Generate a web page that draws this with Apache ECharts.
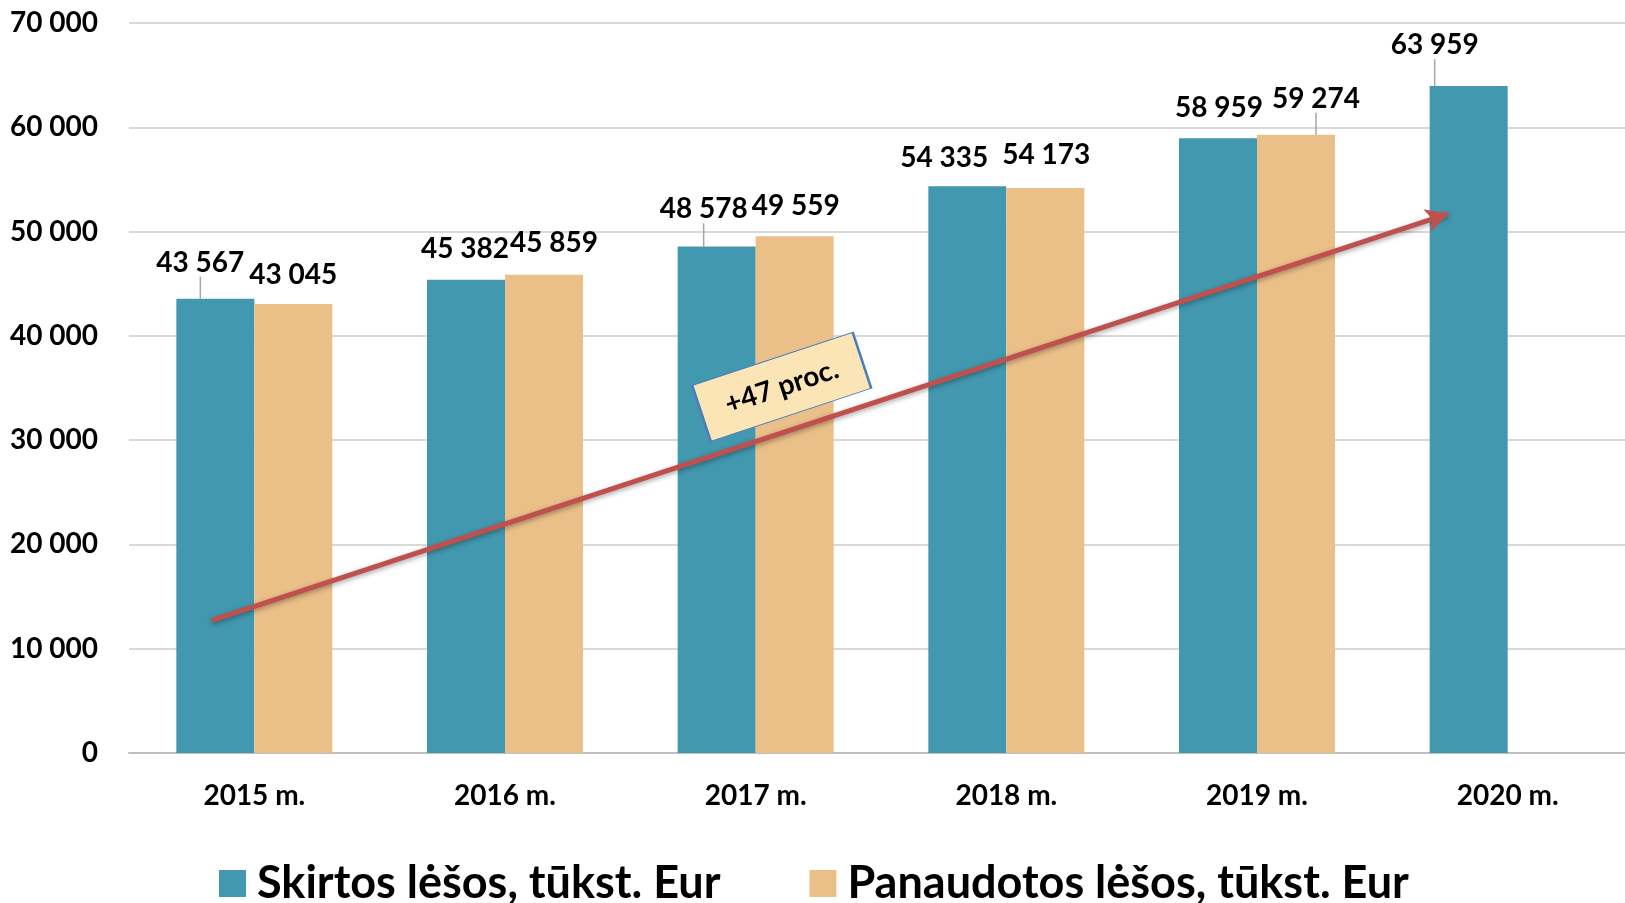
<!DOCTYPE html>
<html>
<head>
<meta charset="utf-8">
<script src="https://cdn.jsdelivr.net/npm/echarts@6/dist/echarts.min.js"></script>
<style>
    html, body { margin: 0; padding: 0; background: #fff; }
    #chart { width: 1625px; height: 903px; }
</style>
</head>
<body>
<div id="chart"></div>
<script>
// data
const years = ['2015 m.', '2016 m.', '2017 m.', '2018 m.', '2019 m.', '2020 m.'];
const skirtos = [43567, 45382, 48578, 54335, 58959, 63959];
const panaudotos = [43045, 45859, 49559, 54173, 59274, null];
const yTicks = [0, 10000, 20000, 30000, 40000, 50000, 60000, 70000];
// trend arrow, in (category index, value) space
const trendFrom = [-0.169, 12710];
const trendTo = [4.762, 51700];
const trendText = '+47 proc.';
const trendBoxAt = [2.104, 35110];

// label nudges [dx, dy] so labels sit like the original
const blueNudge = [[-15, -5], [-1, 0], [-13, -6], [-23, 3], [1, 1], [-34, -10]];
const orangeNudge = [[0, 2], [10, -1], [1, 1], [1, -2], [20, -5], [0, 0]];
const blueLeader = [true, false, true, false, false, true];
const orangeLeader = [false, false, false, false, true, false];

const FONT = 'Lato';

function fmt(v) {
    return String(v).replace(/\B(?=(\d{3})+(?!\d))/g, ' ');
}

function items(values, leaders) {
    return values.map(function (v, i) {
        return {
            value: v,
            labelLine: { show: leaders[i] }
        };
    });
}

let chart = echarts.init(document.getElementById('chart'));

let labelStyle = {
    show: true,
    position: 'top',
    distance: 17,
    color: '#000',
    fontFamily: FONT,
    fontWeight: 'bold',
    fontSize: 28,
    formatter: function (p) {
        return fmt(p.value);
    }
};

let option = {
    animation: false,
    textStyle: { fontFamily: FONT },
    grid: {
        left: 129,
        width: 1504,
        top: 23,
        bottom: 150,
        outerBoundsMode: 'none',
        show: false
    },
    xAxis: [{
        type: 'category',
        data: years,
        axisTick: { show: false },
        axisLine: {
            lineStyle: { color: '#BFBFBF', width: 2 }
        },
        axisLabel: {
            margin: 29,
            color: '#000',
            fontFamily: FONT,
            fontWeight: 'bold',
            fontSize: 28
        }
    }, {
        type: 'value',
        min: -0.5,
        max: 5.5,
        show: false
    }],
    yAxis: {
        type: 'value',
        min: yTicks[0],
        max: yTicks[yTicks.length - 1],
        interval: 10000,
        axisLine: { show: false },
        axisTick: { show: false },
        splitLine: {
            lineStyle: { color: '#D9D9D9', width: 2 }
        },
        axisLabel: {
            margin: 31,
            color: '#000',
            fontFamily: FONT,
            fontWeight: 'bold',
            fontSize: 28,
            formatter: function (v) {
                return fmt(v);
            }
        }
    },
    legend: {
        left: 214,
        top: 856,
        itemWidth: 27,
        itemHeight: 27,
        itemGap: 89,
        icon: 'rect',
        textStyle: {
            color: '#000',
            fontFamily: FONT,
            fontWeight: 'bold',
            fontSize: 45,
            padding: [0, 0, 0, 6]
        },
        data: ['Skirtos lėšos, tūkst. Eur', 'Panaudotos lėšos, tūkst. Eur']
    },
    color: ['#4298AF', '#EABF88'],
    series: [{
        name: 'Skirtos lėšos, tūkst. Eur',
        type: 'bar',
        barWidth: 78,
        barGap: '0%',
        data: items(skirtos, blueLeader),
        label: labelStyle,
        labelLine: {
            lineStyle: { color: '#A6A6A6', width: 1.5 }
        },
        labelLayout: function (p) {
            let n = blueNudge[p.dataIndex];
            return { dx: n[0], dy: n[1] };
        }
    }, {
        name: 'Panaudotos lėšos, tūkst. Eur',
        type: 'bar',
        barWidth: 78,
        barGap: '0%',
        data: items(panaudotos, orangeLeader),
        label: labelStyle,
        labelLine: {
            lineStyle: { color: '#A6A6A6', width: 1.5 }
        },
        labelLayout: function (p) {
            let n = orangeNudge[p.dataIndex];
            return { dx: n[0], dy: n[1] };
        }
    }, {
        name: 'trend',
        type: 'line',
        xAxisIndex: 1,
        data: [],
        silent: true,
        markLine: {
            silent: true,
            symbol: ['none', 'arrow'],
            symbolSize: [18, 22],
            label: { show: false },
            lineStyle: {
                type: 'solid',
                color: '#C0504D',
                width: 5,
                shadowBlur: 5,
                shadowColor: 'rgba(0,0,0,0.35)',
                shadowOffsetY: 2
            },
            data: [[{ coord: trendFrom }, { coord: trendTo }]]
        },
        markPoint: {
            silent: true,
            symbol: 'rect',
            symbolSize: [169, 59],
            symbolRotate: 18.3,
            itemStyle: {
                color: '#FBE5B7',
                borderColor: '#4A7EBB',
                borderWidth: 1.5
            },
            label: {
                show: true,
                position: 'inside',
                rotate: 18.3,
                formatter: trendText,
                color: '#000',
                fontFamily: FONT,
                fontWeight: 'bold',
                fontSize: 28
            },
            data: [{ coord: trendBoxAt }]
        }
    }]
};
chart.setOption(option);
</script>
</body>
</html>
